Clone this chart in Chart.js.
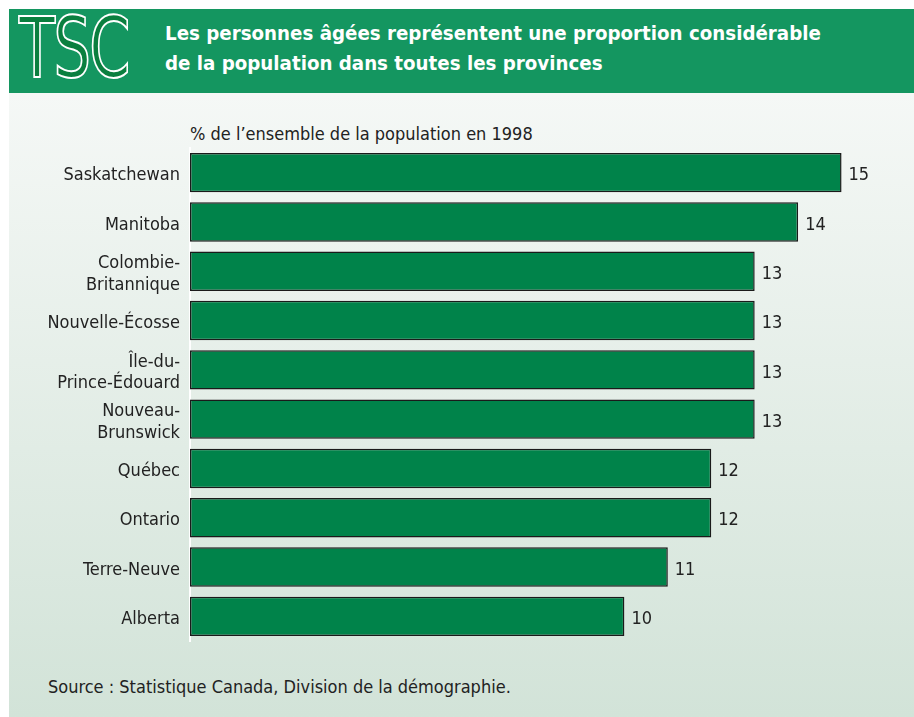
<!DOCTYPE html>
<html>
<head>
<meta charset="utf-8">
<script src="https://cdn.jsdelivr.net/npm/chart.js@4.4.1/dist/chart.umd.min.js"></script>
<style>
  html, body { margin: 0; padding: 0; background: #fff; }
  body { width: 914px; height: 717px; position: relative; overflow: hidden;
         font-family: 'Liberation Sans Narrow', 'DejaVu Sans Condensed', sans-serif; }
  #header { position: absolute; left: 9px; top: 9px; width: 905px; height: 84px; background: #149660; }
  #logo { position: absolute; left: 10px; top: -3px; font-size: 84px; line-height: 84px;
          color: #0a7f3f; -webkit-text-stroke: 2px #fff; transform: scaleX(0.78); transform-origin: left top;
          letter-spacing: -2px; }
  #title { position: absolute; left: 156px; top: 9px; color: #fff; font-weight: bold;
           font-size: 20.3px; line-height: 30px; }
  #panel { position: absolute; left: 9px; top: 93px; width: 905px; height: 624px;
           background: linear-gradient(#f5f8f6, #d2e3d8); }
  #unit { position: absolute; left: 190px; top: 123px; font-size: 18px; color: #222; }
  #source { position: absolute; left: 48px; top: 676px; font-size: 18px; color: #222; }
  #wrap { position: absolute; left: 0; top: 0; width: 914px; height: 717px; }
</style>
</head>
<body>
<div id="header">
  <div id="logo">TSC</div>
  <div id="title">Les personnes âgées représentent une proportion considérable<br>de la population dans toutes les provinces</div>
</div>
<div id="panel"></div>
<div id="unit">% de l’ensemble de la population en 1998</div>
<div id="source">Source : Statistique Canada, Division de la démographie.</div>
<div id="wrap"><canvas id="chart"></canvas></div>
<script>
var provinces = [
    'Saskatchewan',
    'Manitoba',
    ['Colombie-', 'Britannique'],
    'Nouvelle-Écosse',
    ['Île-du-', 'Prince-Édouard'],
    ['Nouveau-', 'Brunswick'],
    'Québec',
    'Ontario',
    'Terre-Neuve',
    'Alberta'
];
var seniorShare = [15, 14, 13, 13, 13, 13, 12, 12, 11, 10];

var fontFamily = "'Liberation Sans Narrow', 'DejaVu Sans Condensed', sans-serif";

// writes the value just right of each bar
var valueLabels = {
    id: 'valueLabels',
    afterDatasetsDraw: function (chart) {
        var ctx = chart.ctx;
        var meta = chart.getDatasetMeta(0);
        ctx.save();
        ctx.font = '18px ' + fontFamily;
        ctx.fillStyle = '#222';
        ctx.textBaseline = 'middle';
        meta.data.forEach(function (bar, i) {
            ctx.fillText(seniorShare[i], bar.x + 7, bar.y + 3);
        });
        ctx.restore();
    }
};

var ctx = document.getElementById('chart').getContext('2d');
var chart = new Chart(ctx, {
    type: 'bar',
    data: {
        labels: provinces,
        datasets: [{
            data: seniorShare,
            backgroundColor: '#00834a',
            borderColor: '#1a1a1a',
            borderWidth: 1.5,
            borderSkipped: false,
            barPercentage: 0.8,
            categoryPercentage: 1
        }]
    },
    options: {
        indexAxis: 'y',
        responsive: true,
        maintainAspectRatio: false,
        animation: false,
        layout: { padding: { top: 148, bottom: 76, right: 29, left: 0 } },
        plugins: {
            legend: { display: false },
            tooltip: { enabled: false }
        },
        scales: {
            x: { display: false, min: 0, max: 16 },
            y: {
                grid: { display: false },
                border: { display: true, color: '#ffffff', width: 2 },
                ticks: {
                    color: '#222',
                    padding: 2,
                    labelOffset: 3,
                    font: { family: fontFamily, size: 18 }
                },
                afterFit: function (scale) { scale.width = 190; }
            }
        }
    },
    plugins: [valueLabels]
});
</script>
</body>
</html>
